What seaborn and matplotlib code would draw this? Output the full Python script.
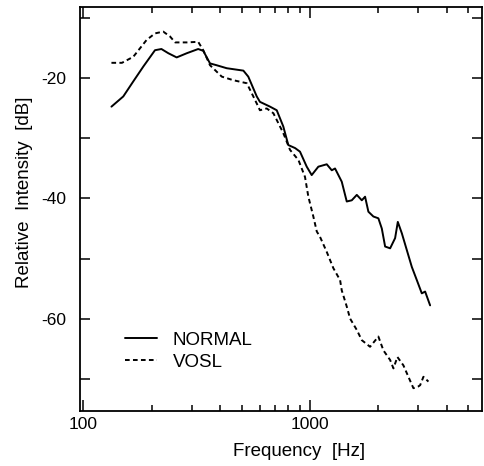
import seaborn as sns
import matplotlib.pyplot as plt
import matplotlib.ticker as mticker
import pandas as pd

# spectra
normal_freq = [133, 150, 166, 184, 207, 221, 237, 258, 286, 321, 338, 362, 387, 429,
               508, 534, 582, 601, 666, 713, 762, 802, 859, 903, 967, 1017, 1088, 1185,
               1247, 1289, 1380, 1452, 1528, 1608, 1692, 1749, 1809, 1903, 2002, 2073,
               2144, 2256, 2373, 2439, 2541, 2673, 2812, 2959, 3112, 3219, 3386]
normal_db = [-24.7, -23.0, -20.5, -18.0, -15.3, -15.1, -15.8, -16.5, -15.8, -15.1, -15.4,
             -17.5, -17.8, -18.3, -18.7, -19.7, -23.0, -23.9, -24.7, -25.3, -28.0, -31.1,
             -31.6, -32.2, -34.7, -36.1, -34.7, -34.3, -35.3, -35.0, -37.2, -40.5, -40.3,
             -39.4, -40.3, -39.7, -42.2, -43.0, -43.3, -45.0, -48.0, -48.3, -46.6, -43.9,
             -45.8, -48.6, -51.4, -53.6, -55.8, -55.5, -57.8]

vosl_freq = [133, 148, 166, 190, 207, 225, 241, 254, 286, 321, 338, 362, 408, 459, 526,
             562, 591, 601, 644, 689, 762, 816, 889, 950, 983, 1034, 1071, 1107, 1185,
             1267, 1357, 1380, 1452, 1502, 1608, 1692, 1840, 2002, 2107, 2256, 2333,
             2429, 2582, 2716, 2858, 3007, 3060, 3164, 3329]
vosl_db = [-17.4, -17.4, -16.4, -13.6, -12.5, -12.2, -13.0, -14.0, -14.0, -13.9, -15.3,
           -17.8, -19.7, -20.3, -20.8, -23.0, -24.7, -25.3, -25.0, -25.8, -29.1, -31.9,
           -33.6, -36.4, -39.7, -43.0, -45.5, -46.4, -48.9, -51.6, -53.6, -55.3, -58.0,
           -60.0, -61.9, -63.6, -64.7, -63.0, -65.3, -66.9, -68.3, -66.4, -67.8, -69.7,
           -71.6, -71.3, -71.1, -69.7, -70.5]

df = pd.concat([
    pd.DataFrame({"freq": normal_freq, "db": normal_db, "cond": "NORMAL"}),
    pd.DataFrame({"freq": vosl_freq, "db": vosl_db, "cond": "VOSL"}),
])

sns.set_style("ticks")
plt.rcParams["font.family"] = ["Liberation Sans", "DejaVu Sans"]
plt.rcParams["axes.unicode_minus"] = False
plt.rcParams["text.color"] = "black"
plt.rcParams["axes.labelcolor"] = "black"
plt.rcParams["xtick.color"] = "black"
plt.rcParams["ytick.color"] = "black"

fig = plt.figure(figsize=(4.84, 4.66), dpi=100)
ax = fig.add_axes([0.165, 0.118, 0.831, 0.867])

sns.lineplot(data=df, x="freq", y="db", style="cond", color="black",
             dashes={"NORMAL": "", "VOSL": (2.4, 1.7)}, estimator=None,
             linewidth=1.4, ax=ax)

ax.set_xscale("log")
ax.set_xlim(96.5, 5740)
ax.set_ylim(-75.4, -8.1)

ax.xaxis.set_major_locator(mticker.FixedLocator([100, 1000]))
ax.xaxis.set_major_formatter(mticker.FixedFormatter(["100", "1000"]))
ax.xaxis.set_minor_locator(mticker.LogLocator(base=10, subs=range(2, 10), numticks=20))
ax.xaxis.set_minor_formatter(mticker.NullFormatter())
ax.yaxis.set_major_locator(mticker.FixedLocator([-60, -40, -20]))
ax.yaxis.set_minor_locator(mticker.FixedLocator([-70, -50, -30, -10]))

ax.tick_params(which="both", direction="in", top=True, right=True, width=1.1)
ax.tick_params(axis="y", which="both", length=7, labelsize=12.5, pad=10)
ax.tick_params(axis="x", which="major", length=8, labelsize=12.5, pad=4)
ax.tick_params(axis="x", which="minor", length=4)
for s in ax.spines.values():
    s.set_linewidth(1.3)
    s.set_color("black")

ax.set_xlabel("Frequency  [Hz]", fontsize=13.5, va="center")
ax.set_ylabel("Relative  Intensity  [dB]", fontsize=13.5, va="center")
ax.xaxis.set_label_coords(0.545, -0.101)
ax.yaxis.set_label_coords(-0.137, 0.542)

ax.legend(title=None, frameon=False, loc="lower left", bbox_to_anchor=(0.07, 0.058),
          fontsize=13.5, handlelength=1.7, handletextpad=0.85, labelspacing=0.26)

fig.savefig("out.png", dpi=100)
